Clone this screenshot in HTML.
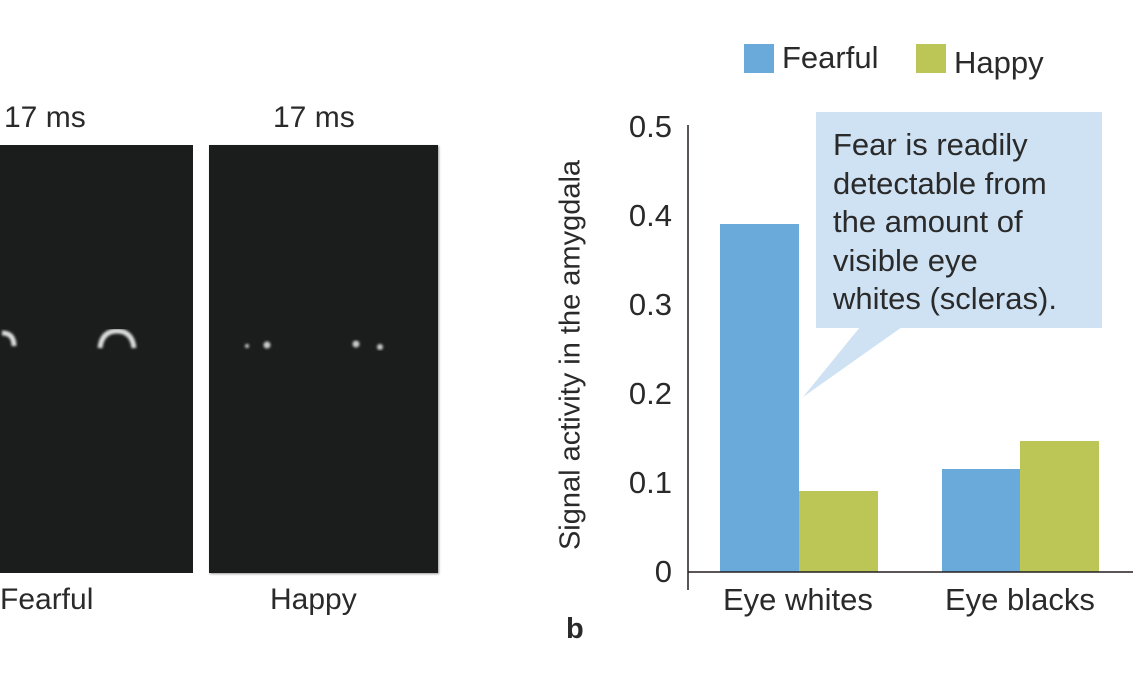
<!DOCTYPE html>
<html><head><meta charset="utf-8"><style>
body{margin:0;width:1141px;height:684px;background:#fff;position:relative;overflow:hidden;font-family:"Liberation Sans",sans-serif;color:#2a2a2a}
.t{position:absolute;white-space:nowrap}
.r{text-align:right;width:60px}
</style></head><body>
<div style="position:absolute;left:0;top:145px;width:193px;height:428px;background:#1b1c1c"></div>
<div style="position:absolute;left:209px;top:145px;width:229px;height:428px;background:#1b1c1c;box-shadow:1px 1px 2px #999"></div>
<svg style="position:absolute;left:0;top:0" width="460" height="684">
<defs><filter id="b"><feGaussianBlur stdDeviation="1.2"/></filter></defs>
<g filter="url(#b)" fill="none" stroke="#ddd" stroke-width="5">
<path d="M2 333 Q14 333 14 346"/>
<path d="M100 348 Q102 331 117 331 Q132 331 134 348"/>
</g>
<g filter="url(#b)" fill="#ccc">
<circle cx="247" cy="346" r="2"/><circle cx="267" cy="345" r="3.5"/>
<circle cx="356" cy="344" r="3.5"/><circle cx="380" cy="347" r="3"/>
</g>
</svg>
<div class="t" style="left:4px;top:101px;font-size:30px">17 ms</div>
<div class="t" style="left:273px;top:101px;font-size:30px">17 ms</div>
<div class="t" style="left:0px;top:583px;font-size:30px">Fearful</div>
<div class="t" style="left:270px;top:583px;font-size:30px">Happy</div>
<div class="t" style="left:566px;top:613px;font-size:29px;font-weight:bold">b</div>

<div style="position:absolute;left:744px;top:44px;width:30px;height:29px;background:#6aaadb"></div>
<div class="t" style="left:782px;top:40px;font-size:31px">Fearful</div>
<div style="position:absolute;left:916px;top:44px;width:30px;height:29px;background:#bcc656"></div>
<div class="t" style="left:954px;top:45px;font-size:31px">Happy</div>

<svg style="position:absolute;left:0;top:0" width="1141" height="684">
<rect x="720" y="224" width="79" height="348" fill="#6aaadb"/>
<rect x="799" y="491" width="79" height="81" fill="#bcc656"/>
<rect x="942" y="469" width="78" height="103" fill="#6aaadb"/>
<rect x="1020" y="441" width="79" height="131" fill="#bcc656"/>
<rect x="816" y="112" width="286" height="216" fill="#cfe2f3"/>
<polygon points="860,327 902,327 803,397" fill="#cfe2f3"/>
<line x1="688" y1="125" x2="688" y2="590" stroke="#231f20" stroke-width="1.5"/>
<line x1="688" y1="572" x2="1133" y2="572" stroke="#231f20" stroke-width="1.5"/>
</svg>
<div class="t r" style="left:612px;top:109px;font-size:31px">0.5</div>
<div class="t r" style="left:612px;top:198px;font-size:31px">0.4</div>
<div class="t r" style="left:612px;top:287px;font-size:31px">0.3</div>
<div class="t r" style="left:612px;top:376px;font-size:31px">0.2</div>
<div class="t r" style="left:612px;top:465px;font-size:31px">0.1</div>
<div class="t r" style="left:612px;top:554px;font-size:31px">0</div>
<div class="t" style="left:571px;top:355px;font-size:29px;transform:translate(-50%,-50%) rotate(-90deg)">Signal activity in the amygdala</div>
<div class="t" style="left:723px;top:582px;font-size:31px">Eye whites</div>
<div class="t" style="left:945px;top:582px;font-size:31px">Eye blacks</div>
<div class="t" style="left:833px;top:126px;font-size:31px;line-height:38.5px">Fear is readily<br>detectable from<br>the amount of<br>visible eye<br>whites (scleras).</div>
</body></html>
